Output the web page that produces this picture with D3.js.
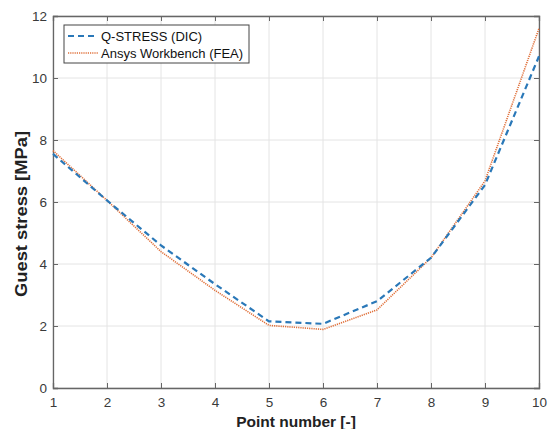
<!DOCTYPE html>
<html>
<head>
<meta charset="utf-8">
<script src="https://cdn.jsdelivr.net/npm/d3@7"></script>
<style>
  body { margin: 0; background: #fff; }
  svg { font-family: "Liberation Sans", Arial, sans-serif; }
</style>
</head>
<body>
<div id="chart"></div>
<script>
// data
var points = [1, 2, 3, 4, 5, 6, 7, 8, 9, 10]
var qstress = [7.55, 6.05, 4.6, 3.35, 2.15, 2.07, 2.8, 4.2, 6.55, 10.7]
var ansys = [7.66, 6.05, 4.4, 3.15, 2.02, 1.89, 2.52, 4.2, 6.68, 11.6]
var xTicks = [1, 2, 3, 4, 5, 6, 7, 8, 9, 10]
var yTicks = [0, 2, 4, 6, 8, 10, 12]
var seriesNames = ['Q-STRESS (DIC)', 'Ansys Workbench (FEA)']

var W = 555, H = 429
var m = {left: 53, right: 16, top: 16, bottom: 41}
var iw = W - m.left - m.right, ih = H - m.top - m.bottom

var svg = d3.select('#chart').append('svg')
  .attr('width', W).attr('height', H)

var x = d3.scaleLinear().domain([1, 10]).range([0, iw])
var y = d3.scaleLinear().domain([0, 12]).range([ih, 0])

var g = svg.append('g').attr('transform', 'translate(' + m.left + ',' + m.top + ')')

// grid
g.append('g').selectAll('line').data(xTicks).enter().append('line')
  .attr('x1', d => x(d)).attr('x2', d => x(d))
  .attr('y1', 0).attr('y2', ih)
  .attr('stroke', '#e4e4e4').attr('stroke-width', 1)
g.append('g').selectAll('line').data(yTicks).enter().append('line')
  .attr('x1', 0).attr('x2', iw)
  .attr('y1', d => y(d)).attr('y2', d => y(d))
  .attr('stroke', '#e4e4e4').attr('stroke-width', 1)

// axes (ticks pointing inward, matlab style)
var axisColor = '#666'
var xb = g.append('g').attr('transform', 'translate(0,' + ih + ')')
  .call(d3.axisBottom(x).tickValues(xTicks).tickSize(-5).tickPadding(9).tickFormat(d3.format('d')))
var xt = g.append('g')
  .call(d3.axisTop(x).tickValues(xTicks).tickSize(-5).tickFormat(''))
var yl = g.append('g')
  .call(d3.axisLeft(y).tickValues(yTicks).tickSize(-5).tickPadding(6).tickFormat(d3.format('d')))
var yr = g.append('g').attr('transform', 'translate(' + iw + ',0)')
  .call(d3.axisRight(y).tickValues(yTicks).tickSize(-5).tickFormat(''))

;[xb, xt, yl, yr].forEach(function(a){
  a.select('.domain').attr('stroke', axisColor).attr('stroke-width', 1.3)
  a.selectAll('.tick line').attr('stroke', axisColor)
  a.selectAll('.tick text').attr('fill', '#3a3a3a').style('font-size', '13.5px')
    .style('font-family', '"Liberation Sans", Arial, sans-serif')
})

// lines
var lineGen = function(vals){
  return d3.line().x((d, i) => x(points[i])).y(d => y(d))(vals)
}
g.append('path').attr('d', lineGen(ansys))
  .attr('fill', 'none').attr('stroke', '#e0703a').attr('stroke-width', 1.6)
  .attr('stroke-dasharray', '1.2,1')
g.append('path').attr('d', lineGen(qstress))
  .attr('fill', 'none').attr('stroke', '#2a78b8').attr('stroke-width', 2.2)
  .attr('stroke-dasharray', '6,4')

// axis titles
svg.append('text')
  .attr('x', 296).attr('y', 427)
  .attr('text-anchor', 'middle')
  .style('font-size', '15.5px').style('font-weight', 'bold').attr('fill', '#222')
  .text('Point number [-]')
svg.append('text')
  .attr('transform', 'translate(27,214) rotate(-90)')
  .attr('text-anchor', 'middle')
  .attr('textLength', 166).attr('lengthAdjust', 'spacingAndGlyphs')
  .style('font-size', '16px').style('font-weight', 'bold').attr('fill', '#222')
  .text('Guest stress [MPa]')

// legend
var lg = svg.append('g').attr('transform', 'translate(64,25)')
lg.append('rect').attr('width', 185).attr('height', 38)
  .attr('fill', '#fff').attr('stroke', '#444').attr('stroke-width', 1)
var styles = [
  {c: '#2a78b8', w: 2.2, dash: '6,4'},
  {c: '#e0703a', w: 1.6, dash: '1.2,1'}
]
seriesNames.forEach(function(n, i){
  var yy = 11 + i * 17
  lg.append('line').attr('x1', 4).attr('x2', 34).attr('y1', yy).attr('y2', yy)
    .attr('stroke', styles[i].c).attr('stroke-width', styles[i].w)
    .attr('stroke-dasharray', styles[i].dash)
  lg.append('text').attr('x', 37).attr('y', yy + 4.5)
    .style('font-size', '13px').attr('fill', '#111').text(n)
})
</script>
</body>
</html>
